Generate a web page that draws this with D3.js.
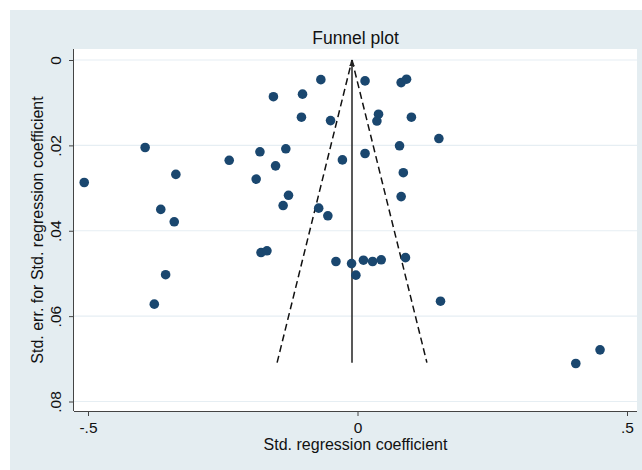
<!DOCTYPE html>
<html>
<head>
<meta charset="utf-8">
<script src="https://cdn.jsdelivr.net/npm/d3@7"></script>
<style>
  html, body { margin: 0; padding: 0; background: #ffffff; }
  svg { display: block; }
  text { font-family: "Liberation Sans", Arial, Helvetica, sans-serif; fill: #111; }
</style>
</head>
<body>
<svg id="chart" width="642" height="470"></svg>
<script>
// ---- data ----
const coef = [
  -0.507, -0.394, -0.337, -0.365, -0.340, -0.238, -0.188, -0.181, -0.152, -0.133,
  -0.156, -0.102, -0.104, -0.068, -0.050, -0.128, -0.138, -0.072, -0.055, -0.028,
   0.014,  0.081,  0.091,  0.039,  0.036,  0.100,  0.151,  0.078,  0.014,  0.085,
   0.081, -0.356, -0.377, -0.179, -0.168, -0.040, -0.011, -0.003,  0.011,  0.028,
   0.044,  0.089,  0.154,  0.405,  0.450
];
const stdErr = [
  0.0287, 0.0205, 0.0268, 0.0350, 0.0379, 0.0235, 0.0279, 0.0215, 0.0248, 0.0208,
  0.0086, 0.0080, 0.0134, 0.0046, 0.0142, 0.0317, 0.0341, 0.0347, 0.0365, 0.0234,
  0.0049, 0.0053, 0.0045, 0.0127, 0.0143, 0.0134, 0.0184, 0.0201, 0.0219, 0.0264,
  0.0320, 0.0503, 0.0572, 0.0451, 0.0447, 0.0472, 0.0477, 0.0504, 0.0469, 0.0472,
  0.0468, 0.0463, 0.0565, 0.0711, 0.0679
];
const pooledEffect = -0.0102;
const funnelMaxSE = 0.0709;
const xTicks = [-0.5, 0, 0.5];
const xTickLabels = ["-.5", "0", ".5"];
const yTicks = [0, 0.02, 0.04, 0.06, 0.08];
const yTickLabels = ["0", ".02", ".04", ".06", ".08"];
const titleText = "Funnel plot";
const xTitle = "Std. regression coefficient";
const yTitle = "Std. err. for Std. regression coefficient";

// ---- layout ----
const svg = d3.select("#chart");
const W = 642, H = 470;
const plot = { left: 74, right: 637, top: 49, bottom: 411 };
const FONT = '"Liberation Sans", Arial, Helvetica, sans-serif';

const x = d3.scaleLinear().domain([-0.5, 0.5]).range([88, 627]);
const y = d3.scaleLinear().domain([0, 0.08]).range([60, 401.5]);

// outer background
svg.append("rect").attr("x", 0).attr("y", 0).attr("width", W).attr("height", H).attr("fill", "#ffffff");
svg.append("rect").attr("x", 10).attr("y", 10).attr("width", W - 10).attr("height", H - 10).attr("fill", "#e4edf1");
// plot region
svg.append("rect").attr("x", plot.left).attr("y", plot.top)
  .attr("width", plot.right - plot.left).attr("height", plot.bottom - plot.top)
  .attr("fill", "#ffffff");

// gridlines
svg.append("g").selectAll("line").data(yTicks).join("line")
  .attr("x1", plot.left).attr("x2", plot.right)
  .attr("y1", d => y(d)).attr("y2", d => y(d))
  .attr("stroke", "#e6eef3").attr("stroke-width", 1.2);

// axes
const xAxis = d3.axisBottom(x).tickValues(xTicks)
  .tickFormat((d, i) => xTickLabels[i]).tickSize(5).tickPadding(6);
const gx = svg.append("g").attr("transform", `translate(0,${plot.bottom})`).call(xAxis);
gx.select(".domain").attr("d", `M${plot.left},0.5H${plot.right}`).attr("stroke", "#444");
gx.selectAll(".tick line").attr("stroke", "#444");
gx.selectAll(".tick text").attr("font-size", 15.5).attr("fill", "#111")
  .style("font-family", FONT);

const yAxis = d3.axisLeft(y).tickValues(yTicks)
  .tickFormat((d, i) => yTickLabels[i]).tickSize(5).tickPadding(3);
const gy = svg.append("g").attr("transform", `translate(${plot.left},0)`).call(yAxis);
gy.select(".domain").attr("d", `M-0.5,${plot.top}V${plot.bottom}`).attr("stroke", "#444");
gy.selectAll(".tick line").attr("stroke", "#444");
gy.selectAll(".tick text")
  .attr("font-size", 15.5).attr("fill", "#111")
  .attr("x", null)
  .attr("text-anchor", "middle")
  .attr("transform", "translate(-18,0) rotate(-90)")
  .attr("y", 0).attr("dy", "0.35em")
  .style("font-family", FONT);

// funnel (dashed pseudo-confidence limits)
const funnelPts = [
  [pooledEffect - 1.96 * funnelMaxSE, funnelMaxSE],
  [pooledEffect, 0],
  [pooledEffect + 1.96 * funnelMaxSE, funnelMaxSE]
];
const lineGen = d3.line().x(d => x(d[0])).y(d => y(d[1]));
svg.append("path").datum(funnelPts.slice(0, 2)).attr("d", lineGen)
  .attr("fill", "none").attr("stroke", "#111").attr("stroke-width", 1.5).attr("stroke-dasharray", "7,4");
svg.append("path").datum(funnelPts.slice(1, 3)).attr("d", lineGen)
  .attr("fill", "none").attr("stroke", "#111").attr("stroke-width", 1.5).attr("stroke-dasharray", "7,4");

// vertical pooled-effect line with arrow
svg.append("defs").append("marker")
  .attr("id", "arrow").attr("viewBox", "0 0 10 10").attr("refX", 9).attr("refY", 5)
  .attr("markerWidth", 6).attr("markerHeight", 7).attr("markerUnits", "userSpaceOnUse")
  .attr("orient", "auto")
  .append("path").attr("d", "M0,0L10,5L0,10Z").attr("fill", "#222");
svg.append("line")
  .attr("x1", x(pooledEffect)).attr("x2", x(pooledEffect))
  .attr("y1", y(funnelMaxSE)).attr("y2", y(0) + 1)
  .attr("stroke", "#222").attr("stroke-width", 1.5)
  .attr("marker-end", "url(#arrow)");

// points
const pts = coef.map((c, i) => ({ c, s: stdErr[i] }));
svg.append("g").selectAll("circle").data(pts).join("circle")
  .attr("cx", d => x(d.c)).attr("cy", d => y(d.s)).attr("r", 4.8)
  .attr("fill", "#1a476f");

// titles
svg.append("text").attr("x", (plot.left + plot.right) / 2).attr("y", 44)
  .attr("text-anchor", "middle").attr("font-size", 17.5).text(titleText);
svg.append("text").attr("x", (plot.left + plot.right) / 2).attr("y", 450)
  .attr("text-anchor", "middle").attr("font-size", 16).text(xTitle);
svg.append("text")
  .attr("transform", `translate(43,${(plot.top + plot.bottom) / 2}) rotate(-90)`)
  .attr("text-anchor", "middle").attr("font-size", 16).text(yTitle);
</script>
</body>
</html>
